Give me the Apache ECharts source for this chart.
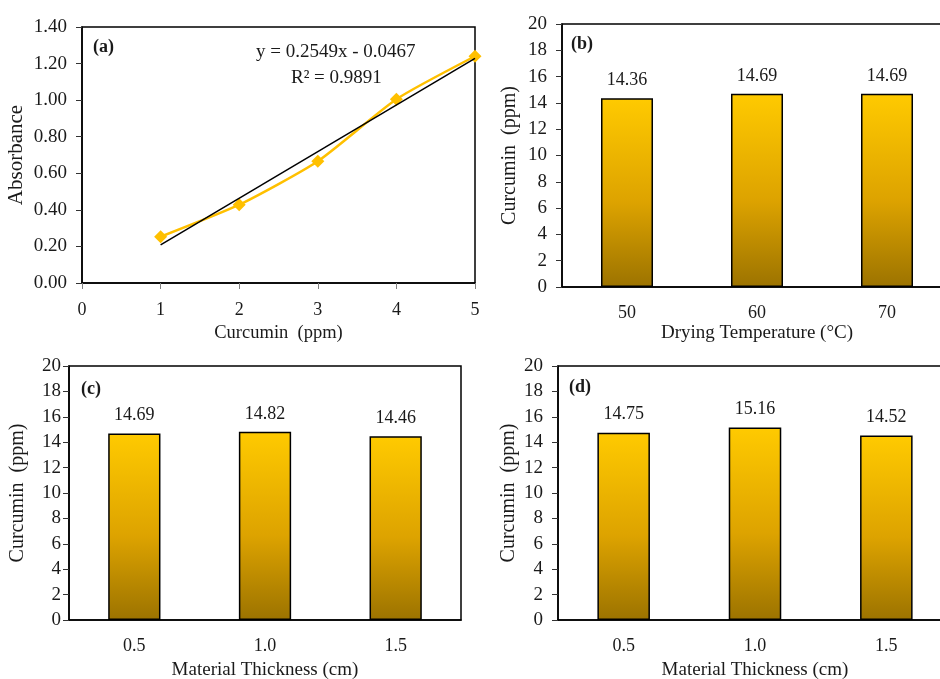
<!DOCTYPE html>
<html>
<head>
<meta charset="utf-8">
<script src="https://cdn.jsdelivr.net/npm/echarts@6/dist/echarts.min.js"></script>
<style>
html,body{margin:0;padding:0;background:#fff;}
#chart{width:940px;height:679px;}
</style>
</head>
<body>
<div id="chart"></div>
<script>
// ---- data ----
const calibX = [1, 2, 3, 4, 5];
const calibY = [0.253, 0.428, 0.666, 1.005, 1.240];
const trendX = [1, 5];
const trendY = [0.208, 1.228];
const tempCategories = ['50', '60', '70'];
const tempValues = [14.36, 14.69, 14.69];
const thickCategoriesC = ['0.5', '1.0', '1.5'];
const thickValuesC = [14.69, 14.82, 14.46];
const thickCategoriesD = ['0.5', '1.0', '1.5'];
const thickValuesD = [14.75, 15.16, 14.52];

const FONT = "'Liberation Serif','Times New Roman',serif";
const TXT = '#1a1a1a';
const chart = echarts.init(document.getElementById('chart'));

const barGrad = new echarts.graphic.LinearGradient(0, 0, 0, 1, [
  {offset: 0, color: '#FFCA00'},
  {offset: 0.55, color: '#DDA300'},
  {offset: 1, color: '#9C7300'}
]);

function yAxisBar(gi, gap, margin) {
  return {
    gridIndex: gi, type: 'value', min: 0, max: 20, interval: 2,
    name: 'Curcumin  (ppm)', nameLocation: 'middle', nameGap: gap,
    nameTextStyle: {fontFamily: FONT, fontSize: 20, color: TXT},
    axisLine: {show: true, lineStyle: {color: '#000', width: 1.5}},
    axisTick: {show: true, length: 6, lineStyle: {color: '#333'}},
    axisLabel: {fontFamily: FONT, fontSize: 19, color: TXT, margin: margin},
    splitLine: {show: false}
  };
}
function xAxisBar(gi, cats, name, gap) {
  return {
    gridIndex: gi, type: 'category', data: cats,
    name: name, nameLocation: 'middle', nameGap: gap,
    nameTextStyle: {fontFamily: FONT, fontSize: 19, color: TXT},
    axisLine: {show: true, lineStyle: {color: '#000', width: 1.5}},
    axisTick: {show: false},
    axisLabel: {fontFamily: FONT, fontSize: 18, color: TXT, margin: 17}
  };
}
function barSeries(idx, vals) {
  return {
    type: 'bar', xAxisIndex: idx, yAxisIndex: idx, data: vals, barWidth: '40%',
    itemStyle: {color: barGrad, borderColor: '#000', borderWidth: 1.5},
    label: {show: true, position: 'top', distance: 9, fontFamily: FONT, fontSize: 18, color: TXT,
      formatter: p => p.value.toFixed(2)}
  };
}
const gridBase = {show: true, borderColor: '#000', borderWidth: 1.5, backgroundColor: 'transparent',
  containLabel: false, outerBoundsMode: 'none'};

const option = {
  backgroundColor: '#fff',
  animation: false,
  grid: [
    Object.assign({left: 82, top: 27, width: 393, height: 256}, gridBase),
    Object.assign({left: 562, top: 24, width: 390, height: 263}, gridBase),
    Object.assign({left: 69, top: 366, width: 392, height: 254}, gridBase),
    Object.assign({left: 558, top: 366, width: 394, height: 254}, gridBase)
  ],
  xAxis: [
    {
      gridIndex: 0, type: 'value', min: 0, max: 5, interval: 1,
      name: 'Curcumin  (ppm)', nameLocation: 'middle', nameGap: 41,
      nameTextStyle: {fontFamily: FONT, fontSize: 18.5, color: TXT},
      axisLine: {show: true, lineStyle: {color: '#000', width: 1.5}},
      axisTick: {show: true, length: 6, lineStyle: {color: '#7f7f7f'}},
      axisLabel: {fontFamily: FONT, fontSize: 18, color: TXT, margin: 18},
      splitLine: {show: false}
    },
    xAxisBar(1, tempCategories, 'Drying Temperature (°C)', 37),
    xAxisBar(2, thickCategoriesC, 'Material Thickness (cm)', 41),
    xAxisBar(3, thickCategoriesD, 'Material Thickness (cm)', 41)
  ],
  yAxis: [
    {
      gridIndex: 0, type: 'value', min: 0, max: 1.4, interval: 0.2,
      name: 'Absorbance', nameLocation: 'middle', nameGap: 55,
      nameTextStyle: {fontFamily: FONT, fontSize: 21, color: TXT},
      axisLine: {show: true, lineStyle: {color: '#000', width: 1.5}},
      axisTick: {show: true, length: 6, lineStyle: {color: '#333'}},
      axisLabel: {fontFamily: FONT, fontSize: 19, color: TXT, margin: 15, formatter: v => v.toFixed(2)},
      splitLine: {show: false}
    },
    yAxisBar(1, 42, 15),
    yAxisBar(2, 41, 8),
    yAxisBar(3, 39, 15)
  ],
  series: [
    {
      type: 'line', xAxisIndex: 0, yAxisIndex: 0,
      data: trendX.map((x, i) => [x, trendY[i]]),
      showSymbol: false, symbol: 'none',
      lineStyle: {color: '#000', width: 1.5}, z: 3
    },
    {
      type: 'line', xAxisIndex: 0, yAxisIndex: 0,
      data: calibX.map((x, i) => [x, calibY[i]]),
      smooth: 0.2,
      symbol: 'diamond', symbolSize: 13,
      itemStyle: {color: '#FFC000'},
      lineStyle: {color: '#FFC000', width: 2.5}, z: 2
    },
    barSeries(1, tempValues),
    barSeries(2, thickValuesC),
    barSeries(3, thickValuesD)
  ],
  graphic: [
    {type: 'text', left: 93, top: 38, style: {text: '(a)', fontFamily: FONT, fontSize: 18, fontWeight: 'bold', fill: TXT}},
    {type: 'text', left: 571, top: 35, style: {text: '(b)', fontFamily: FONT, fontSize: 18, fontWeight: 'bold', fill: TXT}},
    {type: 'text', left: 81, top: 380, style: {text: '(c)', fontFamily: FONT, fontSize: 18, fontWeight: 'bold', fill: TXT}},
    {type: 'text', left: 569, top: 378, style: {text: '(d)', fontFamily: FONT, fontSize: 18, fontWeight: 'bold', fill: TXT}},
    {type: 'text', left: 256, top: 43, style: {text: 'y = 0.2549x - 0.0467', fontFamily: FONT, fontSize: 19, fill: TXT}},
    {type: 'text', left: 291, top: 69, style: {text: 'R² = 0.9891', fontFamily: FONT, fontSize: 19, fill: TXT}}
  ]
};
chart.setOption(option);
</script>
</body>
</html>
